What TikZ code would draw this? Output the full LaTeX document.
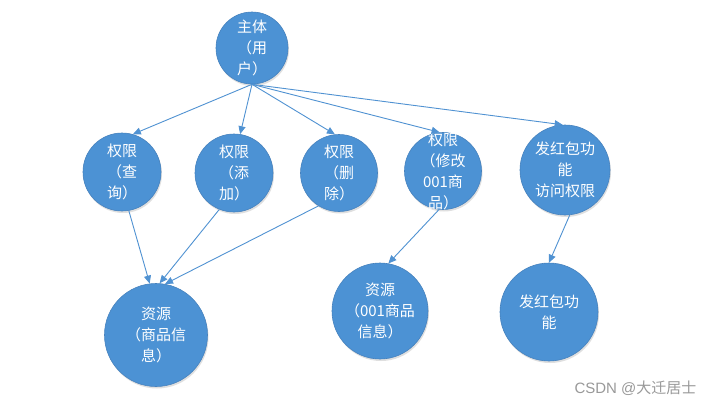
\documentclass[tikz,border=0pt]{standalone}
\usepackage{fontspec}
\newfontfamily\cjk{Noto Sans CJK SC}
\usetikzlibrary{arrows.meta,shadows}
\definecolor{cfill}{RGB}{76,146,212}
\definecolor{cdraw}{RGB}{70,130,190}
\definecolor{cline}{RGB}{80,146,210}
\tikzset{
  circ/.style={circle,fill=cfill,draw=cdraw,line width=0.6pt,inner sep=0pt,minimum size=#1,
    drop shadow={shadow xshift=1pt,shadow yshift=-2pt,opacity=0.25,fill=gray}},
  lbl/.style={text=white,font=\cjk\fontsize{15}{21}\selectfont,align=center,inner sep=0pt},
  arr/.style={draw=cline,line width=0.9pt,-{Triangle[length=8pt,width=7pt]}}
}
\begin{document}
\begin{tikzpicture}[x=1pt,y=-1pt]
\useasboundingbox[fill=white] (0,0) rectangle (713,410);
\node[circ=72pt,label={[lbl]center:主体\\（用\\户）}] (user) at (252,48) {};
\node[circ=78pt,label={[lbl]center:权限\\（查\\询）}] (q) at (122,172) {};
\node[circ=78pt,label={[lbl]center:权限\\（添\\加）}] (add) at (234,173) {};
\node[circ=77pt,label={[lbl]center:权限\\（删\\除）}] (del) at (339,173) {};
\node[circ=77pt,label={[lbl]center:权限\\（修改\\001商\\品）}] (mod) at (443,171) {};
\node[circ=90pt,label={[lbl]center:发红包功\\能\\访问权限}] (hb) at (565,170) {};
\node[circ=103pt,label={[lbl]center:资源\\（商品信\\息）}] (res1) at (156,335) {};
\node[circ=96pt,label={[lbl]center:资源\\（001商品\\信息）}] (res2) at (380,311) {};
\node[circ=98pt,label={[lbl]center:发红包功\\能}] (fn) at (549,312) {};
\draw[arr] (user.south) -- (q.74);
\draw[arr] (user.south) -- (add.81);
\draw[arr] (user.south) -- (del.96);
\draw[arr] (user.south) -- (mod.95);
\draw[arr] (user.south) -- (hb.93);
\draw[arr] (q.-80) -- (res1.97);
\draw[arr] (add.-112) -- (res1.86);
\draw[arr] (del.-122) -- (res1.80);
\draw[arr] (mod.-96) -- (res2.80);
\draw[arr] (hb.-84) -- (fn.90);
\node[font=\fontspec{Liberation Sans}\fontsize{15}{18}\selectfont,text=gray!80,anchor=east] (wm) at (700,388) {CSDN @\cjk 大迁居士};
\end{tikzpicture}
\end{document}
